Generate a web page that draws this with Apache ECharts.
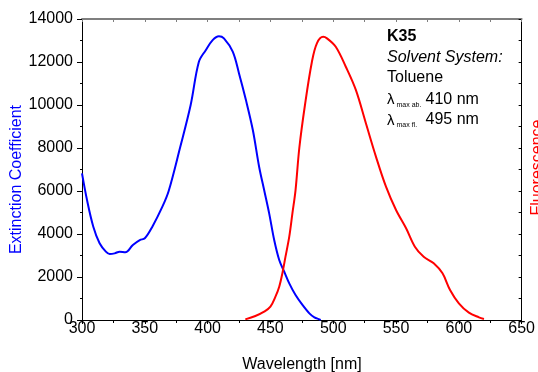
<!DOCTYPE html>
<html>
<head>
<meta charset="utf-8">
<script src="https://cdn.jsdelivr.net/npm/echarts@6/dist/echarts.min.js"></script>
<style>
html,body{margin:0;padding:0;background:#fff;}
#chart{width:538px;height:372px;}
</style>
</head>
<body>
<div id="chart"></div>
<script>
// Absorption (Extinction Coefficient) – blue
const absWl  = [300,304,309,314,319,322,326,330,334.5,340.5,346,350,356,364,369,378,386.5,393,398.5,404,409,413,420,425,430.5,436,441,445,449,453,457,461,465,470,475.5,481,485,489,490];
const absVal = [6820,5580,4340,3570,3180,3070,3100,3180,3150,3490,3720,3800,4340,5270,6000,8000,10000,12000,12550,13020,13200,13100,12480,11470,10230,8835,7130,6045,4960,3720,2790,2245,1705,1160,700,310,125,30,0];
// Fluorescence – red (drawn on the right axis, same range)
const flWl  = [430,438,445,450,454,457,459.5,462,465,467.5,470,473,477.5,483,487,492,495,502,510,518,526,534,542,550,558,565,572,580,587,593,600,608,616,620];
const flVal = [30,186,386,620,1085,1550,2170,2945,3875,4960,6045,8000,10000,12000,12870,13170,13100,12710,11780,10700,9150,7600,6200,5115,4265,3410,2940,2640,2170,1395,775,340,125,50];
// Axis ticks
const xTicks = {min:300, max:650, step:50};
const yTicks = {min:0, max:14000, step:2000};
const xName = 'Wavelength [nm]';
const yNameLeft = 'Extinction Coefficient';
const yNameRight = 'Fluorescence';
const infoLines = ['K35','Solvent System:','Toluene'];
const lambdaLines = [['max ab.','410 nm'],['max fl.','495 nm']];

const FONT = "'Liberation Sans', Arial, sans-serif";
const chart = echarts.init(document.getElementById('chart'), null, {renderer:'canvas'});

function pairs(xs, ys){ return xs.map((x,i)=>[x, ys[i]]); }
function txt(x, y, text, font, fill, align, rot){
  const o = {type:'text', x:x, y:y,
    style:{text:text, fill:fill||'#000', font:font, align:align||'left', verticalAlign:'middle', textAlign:align||'left', textVerticalAlign:'middle'}};
  if (rot) o.rotation = rot;
  return o;
}

const graphics = [
  txt(17, 179.5, yNameLeft, '16px '+FONT, '#0000ff', 'center', Math.PI/2),
  txt(537.6, 167.5, yNameRight, '16px '+FONT, '#ff0000', 'center', Math.PI/2),
  txt(302, 364.4, xName, '16px '+FONT, '#000', 'center'),
  txt(387, 37, infoLines[0], 'bold 16px '+FONT),
  txt(387, 57.7, infoLines[1], 'italic 16px '+FONT),
  txt(387, 77.7, infoLines[2], '16px '+FONT)
];
const lamY = [99.6, 120];
const numX = [425.5, 425.5];
lambdaLines.forEach((l, i)=>{
  graphics.push(txt(387, lamY[i]+0.5, 'λ', '15px '+FONT));
  graphics.push(txt(396.5, lamY[i]+5.5, l[0], '7px '+FONT));
  graphics.push(txt(numX[i], lamY[i], l[1], '16px '+FONT));
});

const option = {
  animation:false,
  backgroundColor:'#fff',
  grid:{left:82, right:16, top:19, bottom:52, containLabel:false},
  xAxis:[
    {type:'value', position:'bottom', min:xTicks.min, max:xTicks.max, interval:xTicks.step,
     axisLine:{show:true, onZero:false, lineStyle:{color:'#000', width:1}},
     axisTick:{show:true, length:4, lineStyle:{color:'#000'}},
     minorTick:{show:true, splitNumber:2, length:3, lineStyle:{color:'#000'}},
     splitLine:{show:false},
     axisLabel:{color:'#000', fontSize:16, fontFamily:FONT, margin:1, formatter:v=>String(v)}},
    {type:'value', position:'top', min:xTicks.min, max:xTicks.max, interval:25,
     axisLine:{show:true, onZero:false, lineStyle:{color:'#7f7f7f', width:2}},
     axisTick:{show:true, inside:true, length:3, lineStyle:{color:'#7f7f7f'}},
     splitLine:{show:false}, axisLabel:{show:false}}
  ],
  yAxis:[
    {type:'value', position:'left', min:yTicks.min, max:yTicks.max, interval:yTicks.step,
     axisLine:{show:true, onZero:false, lineStyle:{color:'#000', width:1}},
     axisTick:{show:true, length:5, lineStyle:{color:'#000'}},
     minorTick:{show:true, splitNumber:2, length:2, lineStyle:{color:'#000'}},
     splitLine:{show:false},
     axisLabel:{color:'#000', fontSize:16, fontFamily:FONT, margin:9, formatter:v=>String(v)}},
    {type:'value', position:'right', min:yTicks.min, max:yTicks.max, interval:1000,
     axisLine:{show:true, onZero:false, lineStyle:{color:'#000', width:1}},
     axisTick:{show:true, inside:true, length:3, lineStyle:{color:'#000'}},
     splitLine:{show:false}, axisLabel:{show:false}}
  ],
  series:[
    {name:'Absorption', type:'line', xAxisIndex:0, yAxisIndex:0, data:pairs(absWl, absVal),
     smooth:0.35, showSymbol:false, symbol:'none', lineStyle:{color:'#0000ff', width:2}, itemStyle:{color:'#0000ff'}},
    {name:'Fluorescence', type:'line', xAxisIndex:0, yAxisIndex:1, data:pairs(flWl, flVal),
     smooth:0.35, showSymbol:false, symbol:'none', lineStyle:{color:'#ff0000', width:2}, itemStyle:{color:'#ff0000'}}
  ],
  graphic:graphics
};
chart.setOption(option);
</script>
</body>
</html>
